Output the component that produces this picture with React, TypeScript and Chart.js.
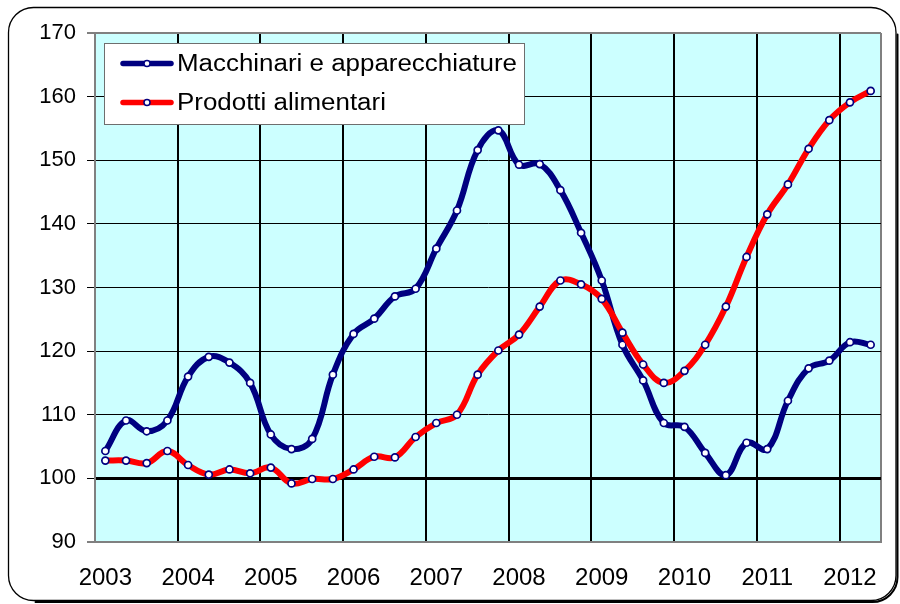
import { useEffect, useRef } from 'react';
import { Chart, registerables } from 'chart.js';

Chart.register(...registerables);

const years = ['2003', '2004', '2005', '2006', '2007', '2008', '2009', '2010', '2011', '2012'];
const quarterCount = 38;

const macchinari = [
  104.3, 109.1, 107.4, 109.1,
  116.0, 119.1, 118.2, 115.0,
  106.9, 104.6, 106.2, 116.3,
  122.7, 125.1, 128.6, 129.8,
  136.1, 142.1, 151.6, 154.7,
  149.3, 149.4, 145.3, 138.6,
  131.1, 121.0, 115.4, 108.7,
  108.1, 104.0, 100.5, 105.6,
  104.6, 112.2, 117.3, 118.5,
  121.4, 121.0,
];

const alimentari = [
  102.8, 102.8, 102.4, 104.3,
  102.1, 100.6, 101.4, 100.8,
  101.7, 99.2, 99.9, 99.9,
  101.4, 103.4, 103.3, 106.5,
  108.7, 110.0, 116.3, 120.1,
  122.6, 127.0, 131.1, 130.5,
  128.2, 122.9, 117.9, 115.0,
  116.9, 121.0, 127.0, 134.8,
  141.5, 146.2, 151.8, 156.3,
  159.1, 160.9,
];

const seriesNames = ['Macchinari e apparecchiature', 'Prodotti alimentari'];
const seriesColors = ['#000080', '#FF0000'];

const labels: string[] = [];
for (let i = 0; i < quarterCount; i++) {
  labels.push(years[Math.floor(i / 4)] + ' T' + ((i % 4) + 1));
}

const FONT = "'Liberation Sans', Arial, sans-serif";

const bgPlugin = {
  id: 'bgPlugin',
  beforeDraw(chart: any) {
    const { ctx, chartArea } = chart;
    ctx.save();
    ctx.fillStyle = '#ffffff';
    ctx.fillRect(0, 0, chart.width, chart.height);
    ctx.fillStyle = '#CCFFFF';
    ctx.fillRect(chartArea.left, chartArea.top, chartArea.right - chartArea.left, chartArea.bottom - chartArea.top);
    ctx.restore();
  },
  afterDraw(chart: any) {
    const { ctx } = chart;
    ctx.save();
    // legend
    const lx = 104.5, ly = 43.5, lw = 420, lh = 81;
    ctx.fillStyle = '#ffffff';
    ctx.fillRect(lx, ly, lw, lh);
    ctx.strokeStyle = '#6e6e6e';
    ctx.lineWidth = 1;
    ctx.strokeRect(lx, ly, lw, lh);
    const rows = [63.5, 102.5];
    chart.data.datasets.forEach((ds: any, i: number) => {
      const y = rows[i];
      ctx.strokeStyle = ds.borderColor;
      ctx.lineWidth = 5.5;
      ctx.lineCap = 'round';
      ctx.beginPath();
      ctx.moveTo(123, y);
      ctx.lineTo(171, y);
      ctx.stroke();
      ctx.beginPath();
      ctx.arc(147, y, 3, 0, Math.PI * 2);
      ctx.fillStyle = '#ffffff';
      ctx.fill();
      ctx.lineWidth = 1.5;
      ctx.strokeStyle = '#000080';
      ctx.stroke();
      ctx.save();
      ctx.translate(177, y + 1);
      ctx.scale(1.127, 1);
      ctx.font = '23px ' + FONT;
      ctx.fillStyle = '#000000';
      ctx.textBaseline = 'middle';
      ctx.textAlign = 'left';
      ctx.fillText(ds.label, 0, 0);
      ctx.restore();
    });
    // outer rounded border
    const x0 = 8.5, y0 = 7.5, x1 = 896, y1 = 600.5, r = 25;
    ctx.strokeStyle = '#000000';
    ctx.lineWidth = 1.3;
    ctx.beginPath();
    ctx.moveTo(x0 + r, y0);
    ctx.lineTo(x1 - r, y0);
    ctx.arcTo(x1, y0, x1, y0 + r, r);
    ctx.lineTo(x1, y1 - r);
    ctx.arcTo(x1, y1, x1 - r, y1, r);
    ctx.lineTo(x0 + r, y1);
    ctx.arcTo(x0, y1, x0, y1 - r, r);
    ctx.lineTo(x0, y0 + r);
    ctx.arcTo(x0, y0, x0 + r, y0, r);
    ctx.closePath();
    ctx.stroke();
    // shadow on right/bottom
    ctx.lineWidth = 2;
    ctx.beginPath();
    ctx.moveTo(x1 + 1.5, y0 + r + 2);
    ctx.lineTo(x1 + 1.5, y1 - r + 1.5);
    ctx.arcTo(x1 + 1.5, y1 + 1.5, x1 - r + 1.5, y1 + 1.5, r);
    ctx.lineTo(x0 + r + 2, y1 + 1.5);
    ctx.stroke();
    ctx.restore();
  },
};

export default function App() {
  const canvasRef = useRef<HTMLCanvasElement | null>(null);

  useEffect(() => {
    if (!canvasRef.current) return;
    const mkDataset = (i: number, values: number[], order: number) => ({
      label: seriesNames[i],
      data: values,
      borderColor: seriesColors[i],
      backgroundColor: seriesColors[i],
      borderWidth: 6,
      tension: 0.4,
      pointRadius: 3.5,
      pointBackgroundColor: '#ffffff',
      pointBorderColor: '#000080',
      pointBorderWidth: 1.7,
      fill: false,
      order,
    });
    const chart = new Chart(canvasRef.current, {
      type: 'line',
      data: {
        labels,
        datasets: [mkDataset(0, macchinari, 1), mkDataset(1, alimentari, 0)],
      },
      options: {
        animation: false,
        responsive: false,
        maintainAspectRatio: false,
        layout: { padding: { left: 0, top: 33, right: 19, bottom: 0 } },
        plugins: { legend: { display: false }, tooltip: { enabled: false } },
        scales: {
          x: {
            type: 'category',
            offset: true,
            grid: {
              offset: true,
              drawTicks: false,
              color: (ctx: any) => {
                const i = ctx.index;
                if (i === undefined || i === 0) return '#808080';
                return i % 4 === 0 ? '#000000' : 'rgba(0,0,0,0)';
              },
              lineWidth: (ctx: any) => {
                const i = ctx.index;
                if (i === undefined || i === 0) return 2;
                return i % 4 === 0 ? 2 : 1;
              },
            },
            border: { display: true, color: '#808080', width: 2 },
            ticks: {
              autoSkip: false,
              maxRotation: 0,
              minRotation: 0,
              padding: 22,
              color: '#000000',
              font: { family: FONT, size: 24 },
              callback: (_v: any, i: number) => (i % 4 === 0 ? years[i / 4] : ''),
            },
            afterFit: (s: any) => {
              s.height = 62;
            },
          },
          y: {
            min: 90,
            max: 170,
            grid: {
              color: (ctx: any) => {
                const v = ctx.tick && ctx.tick.value;
                if (v === 170 || v === 90) return '#808080';
                return '#000000';
              },
              lineWidth: (ctx: any) => {
                const v = ctx.tick && ctx.tick.value;
                if (v === 100) return 3;
                if (v === 170 || v === 90) return 2;
                return 1;
              },
              tickLength: 8,
              tickColor: '#000000',
              tickWidth: 1,
            },
            border: { display: true, color: '#808080', width: 2 },
            ticks: {
              stepSize: 10,
              padding: 11,
              color: '#000000',
              font: { family: FONT, size: 22 },
            },
            afterFit: (s: any) => {
              s.width = 95;
            },
          },
        },
      },
      plugins: [bgPlugin],
    } as any);
    return () => chart.destroy();
  }, []);

  return (
    <div style={{ position: 'fixed', left: 0, top: 0, width: 900, height: 604, background: '#fff' }}>
      <canvas ref={canvasRef} width={900} height={604} style={{ display: 'block', width: 900, height: 604 }} />
    </div>
  );
}
